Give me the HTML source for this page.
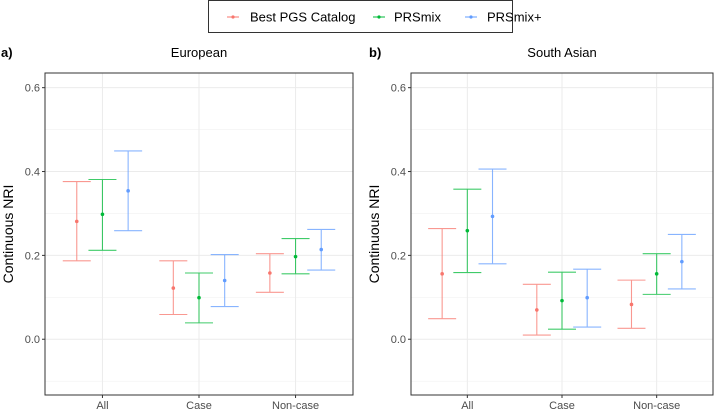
<!DOCTYPE html>
<html><head><meta charset="utf-8"><style>
body{margin:0;background:#fff;font-family:"Liberation Sans",sans-serif}
svg text{font-family:"Liberation Sans",sans-serif}
</style></head><body>
<svg id="chart" width="720" height="412" viewBox="0 0 720 412" xmlns="http://www.w3.org/2000/svg">
<g>
<rect x="208.5" y="0.5" width="304" height="32" fill="#fff" stroke="#333" stroke-width="1"/>
<g><line x1="227" x2="239" y1="17" y2="17" stroke="#F8766D"/><circle cx="233" cy="17" r="1.6" fill="#F8766D"/><text x="250" y="21.5" font-size="13" fill="#000">Best PGS Catalog</text></g>
<g><line x1="373" x2="385" y1="17" y2="17" stroke="#00BA38"/><circle cx="379" cy="17" r="1.6" fill="#00BA38"/><text x="394" y="21.5" font-size="13" fill="#000">PRSmix</text></g>
<g><line x1="465" x2="477" y1="17" y2="17" stroke="#619CFF"/><circle cx="471" cy="17" r="1.6" fill="#619CFF"/><text x="487" y="21.5" font-size="13" fill="#000">PRSmix+</text></g>
</g>
<g id="panels"></g>
</svg>
<script>
const categories=["All","Case","Non-case"];
const seriesNames=["Best PGS Catalog","PRSmix","PRSmix+"];
const colors=["#F8766D","#00BA38","#619CFF"];
const yTicks=[0.0,0.2,0.4,0.6];
const yTickLabels=["0.0","0.2","0.4","0.6"];
const eurEst=[[0.281,0.122,0.158],[0.298,0.099,0.197],[0.354,0.140,0.214]];
const eurLow=[[0.187,0.059,0.112],[0.212,0.039,0.156],[0.259,0.078,0.165]];
const eurHigh=[[0.376,0.187,0.204],[0.381,0.158,0.240],[0.449,0.202,0.262]];
const saEst=[[0.156,0.070,0.083],[0.259,0.092,0.156],[0.293,0.099,0.185]];
const saLow=[[0.049,0.010,0.026],[0.159,0.024,0.107],[0.180,0.029,0.120]];
const saHigh=[[0.264,0.131,0.141],[0.358,0.160,0.204],[0.406,0.167,0.250]];

const NS="http://www.w3.org/2000/svg";
const root=document.getElementById('panels');
function mk(tag,attrs,parent){const e=document.createElementNS(NS,tag);for(const k in attrs)e.setAttribute(k,attrs[k]);parent.appendChild(e);return e;}
const yMin=-0.133,yMax=0.635,plotTop=73,plotBot=395;
function yScale(v){return plotBot-(v-yMin)/(yMax-yMin)*(plotBot-plotTop);}

function panel(left,right,tag,title,titleX,est,lo,hi,key){
  const g=mk('g',{},root);
  
  
  const w=right-left, step=w/3.19;
  const cx=i=>left+(i*step)+(w-2*step)/2;
  for(let t=-0.1;t<=0.55;t+=0.2){mk('line',{x1:left,x2:right,y1:yScale(t),y2:yScale(t),stroke:'#f2f2f2','stroke-width':0.6},g);}
  yTicks.forEach((t,i)=>{
    const ln=mk('line',{x1:left,x2:right,y1:yScale(t),y2:yScale(t),stroke:'#ebebeb','stroke-width':1},g);
    
    
    mk('line',{x1:left-3,x2:left,y1:yScale(t),y2:yScale(t),stroke:'#333'},g);
    const tx=mk('text',{x:left-5,y:yScale(t)+4,'text-anchor':'end','font-size':11,fill:'#4d4d4d'},g);
    tx.textContent=yTickLabels[i];
    
    
  });
  categories.forEach((c,i)=>{
    const X=cx(i);
    mk('line',{x1:X,x2:X,y1:plotTop,y2:plotBot,stroke:'#ebebeb'},g);
    mk('line',{x1:X,x2:X,y1:plotBot,y2:plotBot+3,stroke:'#333'},g);
    const tx=mk('text',{x:X,y:plotBot+14,'text-anchor':'middle','font-size':11,fill:'#4d4d4d'},g);
    tx.textContent=c;
    
    
  });
  const off=step*0.266, cap=14;
  seriesNames.forEach((s,si)=>{
    categories.forEach((c,i)=>{
      const X=cx(i)+(si-1)*off;
      const eg=mk('g',{stroke:colors[si],'stroke-width':1.1,opacity:0.75},g);
      
      
      mk('line',{x1:X,x2:X,y1:yScale(lo[si][i]),y2:yScale(hi[si][i])},eg);
      mk('line',{x1:X-cap,x2:X+cap,y1:yScale(lo[si][i]),y2:yScale(lo[si][i])},eg);
      mk('line',{x1:X-cap,x2:X+cap,y1:yScale(hi[si][i]),y2:yScale(hi[si][i])},eg);
      const p=mk('circle',{cx:X,cy:yScale(est[si][i]),r:1.8,fill:colors[si]},g);
      
      
    });
  });
  const fr=mk('rect',{x:left,y:plotTop,width:w,height:plotBot-plotTop,fill:'none',stroke:'#333','stroke-width':1},g);
  
  
  const t1=mk('text',{x:tag[1],y:57,'font-size':13,'font-weight':'bold',fill:'#000'},g);
  t1.textContent=tag[0];
  
  
  const t2=mk('text',{x:titleX,y:57,'text-anchor':'middle','font-size':13,fill:'#000'},g);
  t2.textContent=title;
  
  
  const yl=mk('text',{x:0,y:0,'text-anchor':'middle','font-size':14,fill:'#000',transform:`translate(${left-32},${(plotTop+plotBot)/2}) rotate(-90)`},g);
  yl.textContent='Continuous NRI';
  
  
}
panel(45,353,['a)',1],'European',199,eurEst,eurLow,eurHigh,'european');
panel(411,713,['b)',369],'South Asian',562,saEst,saLow,saHigh,'south-asian');
</script>
</body></html>
